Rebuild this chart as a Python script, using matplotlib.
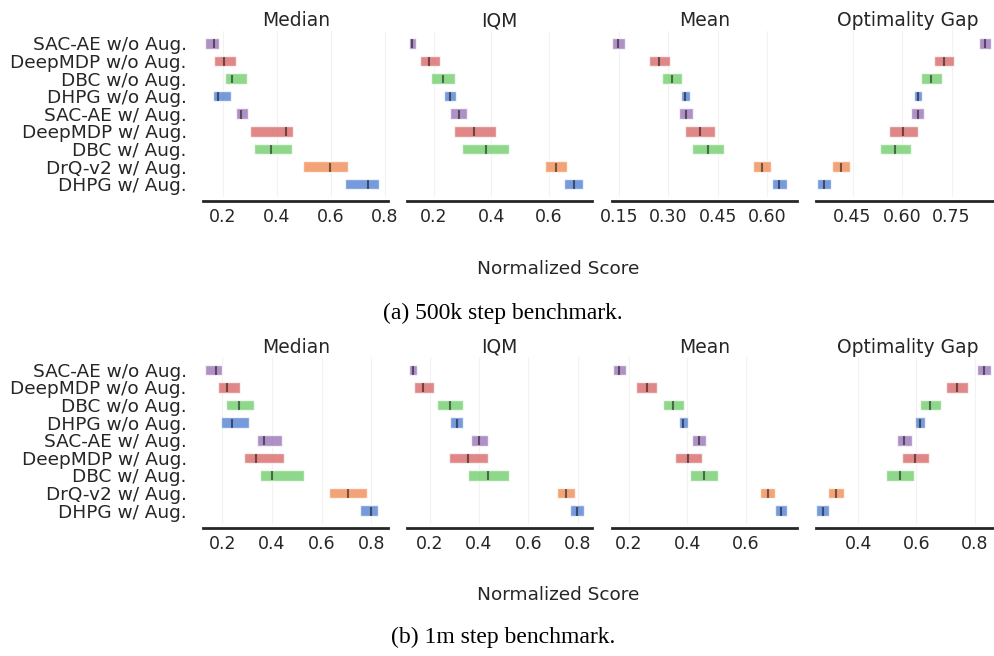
import numpy as np
import matplotlib.pyplot as plt
import seaborn as sns

sns.set_style('white')
plt.rcParams['font.family'] = ['DejaVu Sans']

algorithms = ['SAC-AE w/o Aug.', 'DeepMDP w/o Aug.', 'DBC w/o Aug.', 'DHPG w/o Aug.',
              'SAC-AE w/ Aug.', 'DeepMDP w/ Aug.', 'DBC w/ Aug.', 'DrQ-v2 w/ Aug.',
              'DHPG w/ Aug.']
metric_names = ['Median', 'IQM', 'Mean', 'Optimality Gap']

# (lower, point, upper) per algorithm, rows top to bottom
# 500k step benchmark
median_500k = [(0.134, 0.169, 0.185), (0.168, 0.204, 0.248), (0.210, 0.233, 0.289),
               (0.165, 0.181, 0.232), (0.248, 0.269, 0.293), (0.300, 0.433, 0.459),
               (0.316, 0.378, 0.456), (0.499, 0.596, 0.663), (0.653, 0.737, 0.778)]
iqm_500k = [(0.112, 0.125, 0.138), (0.151, 0.184, 0.221), (0.191, 0.232, 0.274),
            (0.234, 0.254, 0.275), (0.257, 0.286, 0.314), (0.270, 0.340, 0.415),
            (0.296, 0.380, 0.461), (0.585, 0.626, 0.664), (0.654, 0.686, 0.717)]
mean_500k = [(0.130, 0.148, 0.169), (0.242, 0.273, 0.305), (0.280, 0.311, 0.342),
             (0.338, 0.351, 0.366), (0.332, 0.353, 0.375), (0.352, 0.396, 0.441),
             (0.372, 0.421, 0.469), (0.557, 0.585, 0.612), (0.613, 0.636, 0.660)]
gap_500k = [(0.832, 0.852, 0.870), (0.696, 0.727, 0.758), (0.659, 0.689, 0.720),
            (0.635, 0.648, 0.661), (0.626, 0.648, 0.668), (0.561, 0.603, 0.648),
            (0.532, 0.580, 0.628), (0.388, 0.415, 0.442), (0.342, 0.365, 0.386)]

# 1m step benchmark
median_1m = [(0.130, 0.176, 0.200), (0.183, 0.219, 0.271), (0.216, 0.268, 0.326),
             (0.196, 0.239, 0.306), (0.341, 0.369, 0.439), (0.287, 0.336, 0.450),
             (0.351, 0.399, 0.528), (0.632, 0.705, 0.783), (0.756, 0.800, 0.828)]
iqm_1m = [(0.115, 0.131, 0.147), (0.137, 0.172, 0.217), (0.231, 0.282, 0.337),
          (0.282, 0.309, 0.336), (0.368, 0.400, 0.436), (0.278, 0.354, 0.436),
          (0.355, 0.438, 0.522), (0.718, 0.754, 0.787), (0.770, 0.798, 0.825)]
mean_1m = [(0.145, 0.167, 0.191), (0.224, 0.262, 0.297), (0.317, 0.353, 0.388),
           (0.371, 0.387, 0.402), (0.416, 0.441, 0.465), (0.358, 0.404, 0.450),
           (0.410, 0.457, 0.504), (0.649, 0.675, 0.701), (0.700, 0.720, 0.741)]
gap_1m = [(0.810, 0.834, 0.857), (0.702, 0.740, 0.778), (0.612, 0.647, 0.684),
          (0.597, 0.613, 0.629), (0.534, 0.559, 0.584), (0.550, 0.597, 0.643),
          (0.495, 0.543, 0.592), (0.297, 0.323, 0.350), (0.256, 0.278, 0.300)]

# axis ranges and ticks per panel
xlims_500k = [(0.128, 0.813), (0.107, 0.751), (0.1285, 0.689), (0.3385, 0.899)]
xticks_500k = [[0.2, 0.4, 0.6, 0.8], [0.2, 0.4, 0.6], [0.15, 0.30, 0.45, 0.60], [0.45, 0.60, 0.75]]
xlims_1m = [(0.1235, 0.869), (0.1095, 0.859), (0.142, 0.774), (0.254, 0.890)]
xticks_1m = [[0.2, 0.4, 0.6, 0.8], [0.2, 0.4, 0.6, 0.8], [0.2, 0.4, 0.6], [0.4, 0.6, 0.8]]

pal = sns.color_palette('muted')
colors = [pal[4], pal[3], pal[2], pal[0], pal[4], pal[3], pal[2], pal[1], pal[0]]

W, H = 995, 656
fig = plt.figure(figsize=(W / 100, H / 100), dpi=100)

panel_left = [203.3, 407.3, 611.7, 815.7]
panel_w = 185.0


def draw_row(top_px, data, xlims, xticks, xlabel_y, caption, caption_y):
    h = 0.6
    n = len(algorithms)
    bottom_px = top_px + 166.5
    for idx, metric in enumerate(metric_names):
        ax = fig.add_axes([panel_left[idx] / W, 1 - bottom_px / H,
                           panel_w / W, (bottom_px - top_px) / H])
        for i, alg in enumerate(algorithms):
            lo, pt, hi = data[idx][i]
            y = n - 1 - i
            ax.barh(y=y, width=hi - lo, height=h, left=lo, color=colors[i], alpha=0.75)
            ax.vlines(x=pt, ymin=y - 7.5 * h / 16, ymax=y + 6 * h / 16,
                      color='k', alpha=0.5, linewidth=1.5)
        ax.set_xlim(*xlims[idx])
        ax.set_ylim(-0.73, n - 1 + 0.73)
        ax.set_xticks(xticks[idx])
        if idx == 0:
            ax.set_yticks(range(n))
            ax.set_yticklabels(algorithms[::-1], fontsize=13.3)
        else:
            ax.set_yticks([])
        ax.set_title(metric, fontsize=13.5, pad=3, color='.15')
        ax.spines['right'].set_visible(False)
        ax.spines['top'].set_visible(False)
        ax.spines['left'].set_visible(False)
        ax.spines['bottom'].set_linewidth(2)
        ax.spines['bottom'].set_color('.15')
        ax.spines['bottom'].set_position(('outward', 3))
        ax.tick_params(axis='x', length=0.1, width=0.1, labelsize=12.5, pad=5, colors='.15')
        ax.tick_params(axis='y', length=0, pad=12, colors='.15')
        ax.grid(True, axis='x', alpha=0.25)
        ax.set_axisbelow(True)
    fig.text(557.7 / W, 1 - xlabel_y / H, 'Normalized Score', ha='center', va='center',
             fontsize=13.3, color='.15')
    fig.text(503 / W, 1 - caption_y / H, caption, ha='center', va='center',
             fontsize=17, family='Liberation Serif', color='black')


draw_row(30.5, [median_500k, iqm_500k, mean_500k, gap_500k], xlims_500k, xticks_500k,
         269, '(a) 500k step benchmark.', 313)
draw_row(357.0, [median_1m, iqm_1m, mean_1m, gap_1m], xlims_1m, xticks_1m,
         595, '(b) 1m step benchmark.', 637)

fig.savefig('out.png', dpi=100)
